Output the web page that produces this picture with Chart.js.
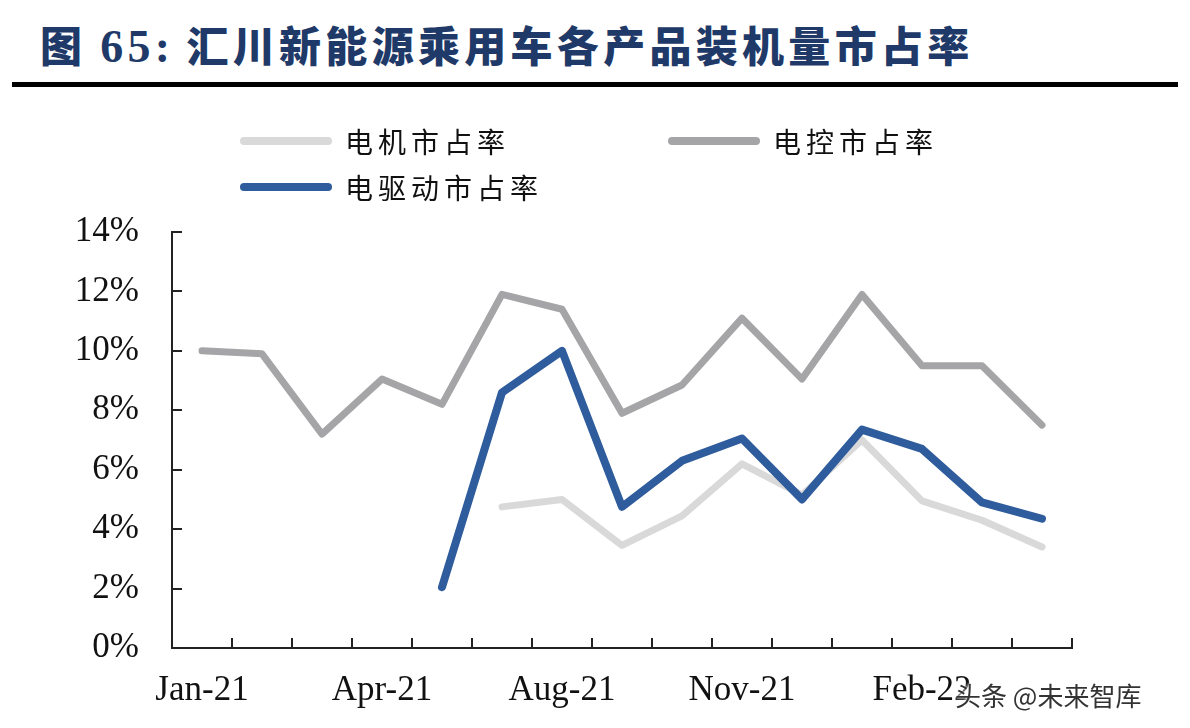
<!DOCTYPE html>
<html>
<head>
<meta charset="utf-8">
<script src="https://cdn.jsdelivr.net/npm/chart.js@4"></script>
<style>
  html, body { margin: 0; padding: 0; background: #fff; }
  body { width: 1190px; height: 728px; position: relative; overflow: hidden; }
  #title {
    position: absolute; left: 40px; top: 13px;
    font-family: "Noto Sans CJK SC", sans-serif; font-weight: 900;
    font-size: 42px; letter-spacing: 4.3px; color: #1f3a68; white-space: nowrap;
  }
  #title .num { font-family: "Liberation Serif", serif; font-weight: bold; font-size: 46px; margin-right: 12px; }
  #rule { position: absolute; left: 12px; top: 82px; width: 1166px; height: 5px; background: #000; }
  #chart { position: absolute; left: 0; top: 0; }
  .leg { position: absolute; height: 40px; display: flex; align-items: center; }
  .leg .swatch { width: 92px; height: 8px; border-radius: 4px; margin-right: 13px; }
  .leg .txt { font-family: "Noto Sans CJK SC", sans-serif; font-size: 28px; letter-spacing: 5px; color: #111; }
  #mark {
    position: absolute; left: 955px; top: 676px;
    font-family: "Noto Sans CJK SC", sans-serif; font-size: 26px; color: #333;
    text-shadow: 0 0 3px #fff, 0 0 3px #fff; white-space: nowrap;
  }
</style>
</head>
<body>
<div id="title">图 <span class="num">65:</span>汇川新能源乘用车各产品装机量市占率</div>
<div id="rule"></div>
<canvas id="chart" width="1190" height="728"></canvas>
<div id="legend"></div>
<div id="mark">头条 @未来智库</div>
<script>
// months on the x axis (one month is missing in the source between Apr and Aug)
const months = ['Jan-21', 'Feb-21', 'Mar-21', 'Apr-21', 'May-21', 'Jul-21', 'Aug-21', 'Sep-21',
                'Oct-21', 'Nov-21', 'Dec-21', 'Jan-22', 'Feb-22', 'Mar-22', 'Apr-22'];

// market share, %
const motorShare   = [null, null, null, null, null, 4.75, 5.0, 3.45, 4.45, 6.2, 5.15, 7.0, 4.95, 4.3, 3.4];
const controlShare = [10.0, 9.9, 7.2, 9.05, 8.2, 11.9, 11.4, 7.9, 8.85, 11.1, 9.05, 11.9, 9.5, 9.5, 7.5];
const driveShare   = [null, null, null, null, 2.05, 8.6, 10.0, 4.75, 6.3, 7.05, 5.0, 7.35, 6.7, 4.9, 4.35];

const yTicks = [0, 2, 4, 6, 8, 10, 12, 14];

const series = [
    { label: '电机市占率', data: motorShare, color: '#d9d9d9', width: 7, order: 2, legend: { left: 240, top: 121 } },
    { label: '电控市占率', data: controlShare, color: '#a5a5a7', width: 7, order: 1, legend: { left: 668, top: 121 } },
    { label: '电驱动市占率', data: driveShare, color: '#2f5c9c', width: 8, order: 0, legend: { left: 240, top: 167 } }
];

// html legend, laid out like the original two-column block
const legendBox = document.getElementById('legend');
series.forEach(s => {
    const item = document.createElement('div');
    item.className = 'leg';
    item.style.left = s.legend.left + 'px';
    item.style.top = s.legend.top + 'px';
    item.innerHTML = '<div class="swatch" style="background:' + s.color + '"></div><div class="txt">' + s.label + '</div>';
    legendBox.appendChild(item);
});

const axisColor = '#222';
const tickFont = { family: '"Liberation Serif", "Times New Roman", serif', size: 35 };

new Chart(document.getElementById('chart'), {
    type: 'line',
    data: {
        labels: months,
        datasets: series.map(s => ({
            label: s.label,
            data: s.data,
            borderColor: s.color,
            backgroundColor: s.color,
            borderWidth: s.width,
            borderCapStyle: 'round',
            borderJoinStyle: 'round',
            pointRadius: 0,
            tension: 0,
            spanGaps: false,
            order: s.order
        }))
    },
    options: {
        responsive: false,
        animation: false,
        layout: { padding: { top: 232, right: 118, left: 0, bottom: 0 } },
        plugins: {
            legend: { display: false },
            tooltip: { enabled: false }
        },
        scales: {
            x: {
                offset: true,
                grid: { offset: true, drawOnChartArea: false, tickLength: -10, color: axisColor, lineWidth: 2 },
                border: { display: true, color: axisColor, width: 2 },
                ticks: {
                    autoSkip: false, maxRotation: 0, padding: 32, color: '#111', font: tickFont,
                    callback: (v, i) => (i % 3 === 0 ? months[i] : '')
                },
                afterFit: scale => { scale.height = 80; }
            },
            y: {
                min: yTicks[0],
                max: yTicks[yTicks.length - 1],
                afterBuildTicks: scale => { scale.ticks = yTicks.map(v => ({ value: v })); },
                grid: { drawOnChartArea: false, tickLength: -10, color: axisColor, lineWidth: 2 },
                border: { display: true, color: axisColor, width: 2 },
                ticks: { padding: 43, color: '#111', font: tickFont, callback: v => v + '%' },
                afterFit: scale => { scale.width = 172; }
            }
        }
    }
});
</script>
</body>
</html>
